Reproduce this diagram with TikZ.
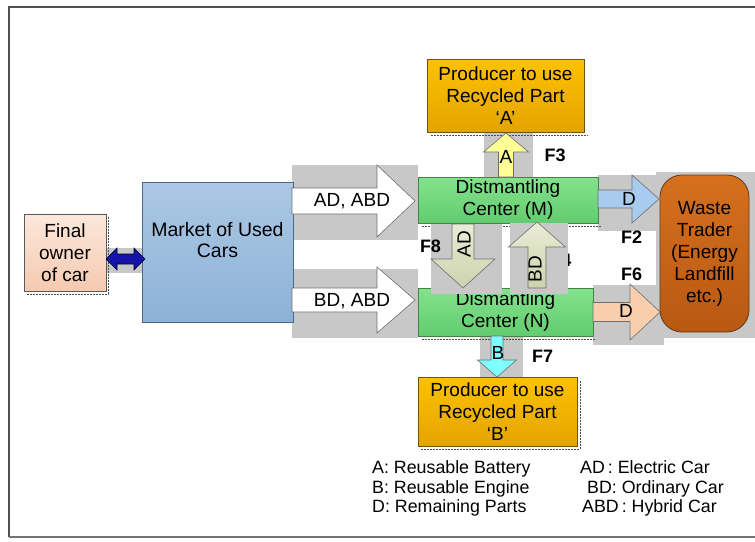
\documentclass[tikz,border=0pt]{standalone}
\usepackage{fontspec}
\setmainfont{Liberation Sans}
\definecolor{gbg}{RGB}{200,200,200}
\definecolor{frame}{RGB}{80,80,80}
\definecolor{greenT}{RGB}{132,226,140}
\definecolor{greenB}{RGB}{98,204,112}
\definecolor{greenD}{RGB}{70,130,70}
\definecolor{orT}{RGB}{252,194,0}
\definecolor{orB}{RGB}{228,164,0}
\definecolor{orD}{RGB}{110,85,10}
\definecolor{mkT}{RGB}{172,200,228}
\definecolor{mkB}{RGB}{140,178,214}
\definecolor{mkD}{RGB}{70,105,140}
\definecolor{owT}{RGB}{252,232,220}
\definecolor{owB}{RGB}{244,202,176}
\definecolor{wsT}{RGB}{214,112,30}
\definecolor{wsB}{RGB}{184,88,18}
\definecolor{wsD}{RGB}{90,60,30}
\definecolor{khT}{RGB}{234,236,214}
\definecolor{khB}{RGB}{204,210,172}
\definecolor{arrD}{RGB}{110,110,110}
\definecolor{yelA}{RGB}{255,255,150}
\definecolor{cyB}{RGB}{128,255,255}
\definecolor{blF}{RGB}{168,204,240}
\definecolor{peF}{RGB}{248,206,172}
\definecolor{dblue}{RGB}{20,20,170}
\newcommand\myharrow[7]{\draw[#1] (#2,{#5-#6}) -- (#3,{#5-#6}) -- (#3,{#5-#7}) -- (#4,#5) -- (#3,{#5+#7}) -- (#3,{#5+#6}) -- (#2,{#5+#6}) -- cycle;}
\newcommand\myvarrow[7]{\draw[#1] ({#5-#6},#2) -- ({#5-#6},#3) -- ({#5-#7},#3) -- (#5,#4) -- ({#5+#7},#3) -- ({#5+#6},#3) -- ({#5+#6},#2) -- cycle;}
\begin{document}
\begin{tikzpicture}[x=1pt,y=-1pt,
  font=\fontsize{19}{22}\selectfont,
  bg/.style={fill=gbg,draw=none},
  boxbase/.style={rectangle,inner sep=0pt,align=center,line width=0.8pt},
  greenbox/.style={boxbase,draw=greenD,top color=greenT,bottom color=greenB},
  prodbox/.style={boxbase,draw=orD,top color=orT,bottom color=orB},
  shadowline/.style={draw=black!70,dashed,line width=0.6pt,dash pattern=on 2pt off 1pt},
  flabel/.style={font=\fontsize{18}{20}\bfseries\selectfont,anchor=base},
  legend/.style={font=\fontsize{17.8}{20}\selectfont,anchor=base west,inner sep=0pt},
  blk/.style={line width=0.6pt,draw=arrD}]
\useasboundingbox (0,0) rectangle (755,541);
\fill[white] (0,0) rectangle (755,541);
% frame
\draw[frame,line width=1.3pt] (9,537) -- (9,7) -- (760,7);
\draw[frame!80,line width=1.3pt] (9,537) -- (760,537);

% grey backgrounds
\fill[bg] (106,248) rectangle (148,273);
\fill[bg] (292,165) rectangle (418,240);
\fill[bg] (292,269) rectangle (418,338);
\fill[bg] (484,132) rectangle (533,177);
\fill[bg] (480,336) rectangle (523,382);
\fill[bg] (598,175) rectangle (660,231);
\fill[bg] (593,285) rectangle (664,345);
\fill[bg] (656,172) rectangle (755,338);

% hidden label partly covered
\node[flabel,anchor=base east] (f4) at (575,266) {F4};

% boxes
\draw[shadowline] (27,294) -- (108,294) -- (108,217);
\node[boxbase,draw=black!65,top color=owT,bottom color=owB,minimum width=82pt,minimum height=77pt] (owner) at (65,252.5) {Final\\owner\\of car};
\node[boxbase,draw=mkD,top color=mkT,bottom color=mkB,minimum width=151pt,minimum height=140pt] (market) at (217.5,252) {};
\node[align=center,inner sep=0pt,font=\fontsize{19.5}{21}\selectfont] (markettxt) at (217.5,240) {Market of Used\\Cars};
\draw[shadowline] (422,226) -- (601,226);
\node[greenbox,minimum width=180pt,minimum height=46pt] (dcm) at (508,200) {Distmantling\\Center (M)};
\draw[shadowline] (422,339) -- (596,339);
\node[greenbox,minimum width=175pt,minimum height=48pt] (dcn) at (505.5,312) {Dismantling\\Center (N)};
\draw[shadowline] (431,135) -- (588,135);
\node[prodbox,minimum width=157pt,minimum height=73pt] (prodA) at (505.5,95.5) {Producer to use\\Recycled Part\\`A'};
\draw[shadowline] (580,381) -- (580,449) -- (421,449);
\node[prodbox,minimum width=159pt,minimum height=69pt] (prodB) at (497.5,411.5) {Producer to use\\Recycled Part\\`B'};
\node[rectangle,rounded corners=22pt,draw=wsD,line width=0.8pt,top color=wsT,bottom color=wsB,minimum width=89pt,minimum height=157pt,align=center,inner sep=0pt] (waste) at (704.5,253.5) {Waste\\Trader\\(Energy\\Landfill\\etc.)};

% grey backgrounds of the vertical arrows between centres
\fill[bg] (431,224) rectangle (502,294);
\fill[bg] (510,223) rectangle (568,294);

% block arrows
\draw[draw=black!80!blue,fill=dblue,line width=0.6pt] (106,259) -- (117,248) -- (117,254) -- (134,254) -- (134,248) -- (145,259) -- (134,270) -- (134,264) -- (117,264) -- (117,270) -- cycle;
\myharrow{blk,fill=white}{292}{377}{415}{201}{13}{36}
\myharrow{blk,fill=white}{292}{377}{415}{300}{12}{33}
\myvarrow{blk,top color=khT,bottom color=khB}{224}{259}{288}{463}{11}{32}
\myvarrow{blk,top color=khT,bottom color=khB}{288}{247}{222}{537}{9}{28.5}
\myvarrow{blk,fill=yelA}{177}{152}{133}{506}{7.5}{22.5}
\myvarrow{blk,fill=cyB}{336}{360}{377}{497}{6}{19.5}
\myharrow{blk,fill=blF}{598}{632}{659}{199}{9}{24}
\myharrow{blk,fill=peF}{593}{630}{660}{312}{9.5}{28}

% arrow labels
\node[anchor=base] (lAD) at (352,206) {AD, ABD};
\node[anchor=base] (lBD) at (352,306) {BD, ABD};
\node[anchor=base] (lA) at (506,163) {A};
\node[anchor=base] (lB) at (498,359) {B};
\node[anchor=base] (lD1) at (629,205) {D};
\node[anchor=base] (lD2) at (626,317) {D};
\node[rotate=90,inner sep=0pt] (lAD8) at (464,244) {AD};
\node[rotate=90,inner sep=0pt] (lBD4) at (535,269) {BD};

% flow labels
\node[flabel] (f8) at (430.5,252) {F8};
\node[flabel] (f3) at (555,161) {F3};
\node[flabel] (f2) at (631.5,243) {F2};
\node[flabel] (f6) at (631.5,280) {F6};
\node[flabel] (f7) at (542.5,362) {F7};

% legend
\node[legend] (lg1) at (372,473) {A: Reusable Battery};
\node[legend] (lg2) at (372,493) {B: Reusable Engine};
\node[legend] (lg3) at (372,512) {D: Remaining Parts};
\node[legend] (lg4) at (580,473) {AD\,: Electric Car};
\node[legend] (lg5) at (587,493) {BD: Ordinary Car};
\node[legend] (lg6) at (582,512) {ABD\,: Hybrid Car};
\end{tikzpicture}
\end{document}
